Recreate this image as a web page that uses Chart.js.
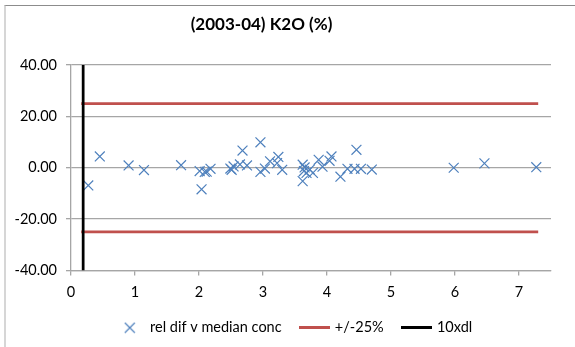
<!DOCTYPE html>
<html>
<head>
<meta charset="utf-8">
<title>K2O relative difference</title>
<script src="https://cdn.jsdelivr.net/npm/chart.js@4.4.1/dist/chart.umd.min.js"></script>
<style>
  html, body { margin: 0; padding: 0; background: #fff; }
  #wrap { position: relative; width: 575px; height: 347px; }
  #frame {
    position: absolute; left: 4px; top: 5px; right: 0; bottom: 0;
    border-top: 1px solid #8c8c8c; border-left: 2px solid #d6d6d6;
    pointer-events: none;
  }
  canvas { display: block; }
</style>
</head>
<body>
<div id="wrap">
  <canvas id="k2oChart" width="575" height="347"></canvas>
  <div id="frame"></div>
</div>
<script>
// median concentration (x) and relative difference from median, % (y)
const medianConc = [
  0.27, 0.45, 0.90, 1.14, 1.72, 2.04, 2.01, 2.09, 2.12, 2.18,
  2.49, 2.51, 2.54, 2.64, 2.68, 2.75, 2.96, 2.96, 3.03, 3.11,
  3.22, 3.24, 3.30, 3.62, 3.62, 3.65, 3.64, 3.68, 3.73, 3.78,
  3.87, 3.93, 4.04, 4.07, 4.21, 4.32, 4.43, 4.46, 4.53, 4.70,
  5.98, 6.46, 7.27
];
const relDiff = [
  -6.9, 4.4, 0.9, -0.9, 1.0, -8.4, -1.3, -1.6, -1.5, -0.4,
  -0.3, -0.8, 0.5, 1.3, 6.7, 0.9, 9.9, -1.6, -0.3, 2.5,
  1.8, 4.2, -0.8, -5.2, 1.2, 0.1, -1.3, -2.0, -0.7, -2.0,
  3.1, 0.4, 2.7, 4.4, -3.5, -0.4, -0.4, 7.0, -0.4, -0.7,
  0.0, 1.7, 0.2
];

// +/-25% acceptance band and the 10x detection limit marker
const bandLimits = [25, -25];
const bandRange = [0.16, 7.3];
const tenXdl = 0.19;
const yRange = [-40, 40];

const xTicks = [0, 1, 2, 3, 4, 5, 6, 7];
const yTicks = [-40, -20, 0, 20, 40];

const seriesLabels = ['rel dif v median conc', '+/-25%', '10xdl'];
const BLUE = '#4f81bd';
const RED = '#c0504d';
const GRID = '#a6a6a6';
const FONT = 'Lato, "Liberation Sans", sans-serif';

const points = medianConc.map((x, i) => ({ x, y: relDiff[i] }));

// both band lines in one dataset, split by a null gap
const bandLine = [];
bandLimits.forEach((lim, i) => {
  if (i > 0) bandLine.push({ x: bandRange[1], y: null });
  bandLine.push({ x: bandRange[0], y: lim }, { x: bandRange[1], y: lim });
});

const dlLine = yRange.map((y) => ({ x: tenXdl, y }));

// legend swatches; the line ones are wider than the legend box so they
// run up close to their text
function legendIcon(kind) {
  const c = document.createElement('canvas');
  const g = c.getContext('2d');
  if (kind === 'x') {
    c.width = 12; c.height = 12;
    g.strokeStyle = BLUE;
    g.lineWidth = 1.2;
    g.beginPath();
    g.moveTo(1, 1); g.lineTo(11, 11);
    g.moveTo(11, 1); g.lineTo(1, 11);
    g.stroke();
  } else {
    c.width = 31; c.height = 3;
    g.fillStyle = kind;
    g.fillRect(0, 0, 31, 3);
  }
  return c;
}

const icons = [legendIcon('x'), legendIcon(RED), legendIcon('#000000')];

const whiteBg = {
  id: 'whiteBg',
  beforeDraw(chart) {
    const { ctx, width, height } = chart;
    ctx.save();
    ctx.fillStyle = '#ffffff';
    ctx.fillRect(0, 0, width, height);
    ctx.restore();
  }
};

// title sits a little left of centre, legend a little right
const nudgeBlocks = {
  id: 'nudgeBlocks',
  afterLayout(chart) {
    if (chart.titleBlock) {
      chart.titleBlock.left -= 14;
      chart.titleBlock.right -= 14;
    }
    if (chart.legend) {
      chart.legend.left += 19;
      chart.legend.right += 19;
    }
  }
};

new Chart(document.getElementById('k2oChart'), {
  type: 'scatter',
  data: {
    datasets: [
      {
        label: seriesLabels[0],
        data: points,
        pointStyle: 'crossRot',
        pointRadius: 7,
        pointBorderWidth: 1.2,
        borderColor: BLUE,
        backgroundColor: BLUE,
        showLine: false,
        order: 1
      },
      {
        label: seriesLabels[1],
        data: bandLine,
        showLine: true,
        spanGaps: false,
        borderColor: RED,
        borderWidth: 2.75,
        pointRadius: 0,
        order: 2
      },
      {
        label: seriesLabels[2],
        data: dlLine,
        showLine: true,
        borderColor: '#000000',
        borderWidth: 2.75,
        pointRadius: 0,
        order: 0
      }
    ]
  },
  options: {
    responsive: false,
    animation: false,
    layout: { padding: { left: 0, right: 24, top: 14, bottom: 2 } },
    plugins: {
      title: {
        display: true,
        text: '(2003-04) K2O (%)',
        color: '#000000',
        font: { family: FONT, size: 17, weight: 'bold' },
        padding: { top: 0, bottom: 30.6 }
      },
      legend: {
        position: 'bottom',
        labels: {
          usePointStyle: true,
          pointStyleWidth: 26,
          padding: 20,
          color: '#000000',
          font: { family: FONT, size: 14.5 },
          generateLabels(chart) {
            return chart.data.datasets.map((ds, i) => ({
              text: ds.label,
              pointStyle: icons[i],
              fillStyle: 'transparent',
              strokeStyle: 'transparent',
              lineWidth: 0,
              hidden: false,
              datasetIndex: i
            }));
          }
        }
      },
      tooltip: { enabled: false }
    },
    scales: {
      x: {
        type: 'linear',
        min: 0,
        max: 7.5,
        afterBuildTicks(scale) {
          scale.ticks = xTicks.map((value) => ({ value }));
        },
        afterFit(scale) {
          scale.height = 30;
        },
        ticks: {
          color: '#000000',
          font: { family: FONT, size: 14.5 },
          padding: 8,
          maxRotation: 0,
          callback: (v) => String(v)
        },
        grid: { drawOnChartArea: false, drawTicks: true, tickLength: 5, color: GRID, lineWidth: 1.3 },
        border: { display: true, color: GRID, width: 1.3 }
      },
      y: {
        min: yRange[0],
        max: yRange[1],
        afterBuildTicks(scale) {
          scale.ticks = yTicks.map((value) => ({ value }));
        },
        afterFit(scale) {
          scale.width = 71;
        },
        ticks: {
          color: '#000000',
          font: { family: FONT, size: 14.5 },
          padding: 9,
          callback: (v) => Number(v).toFixed(2)
        },
        grid: { color: GRID, lineWidth: 1.3, tickLength: 5 },
        border: { display: true, color: GRID, width: 1.3 }
      }
    }
  },
  plugins: [whiteBg, nudgeBlocks]
});
</script>
</body>
</html>
